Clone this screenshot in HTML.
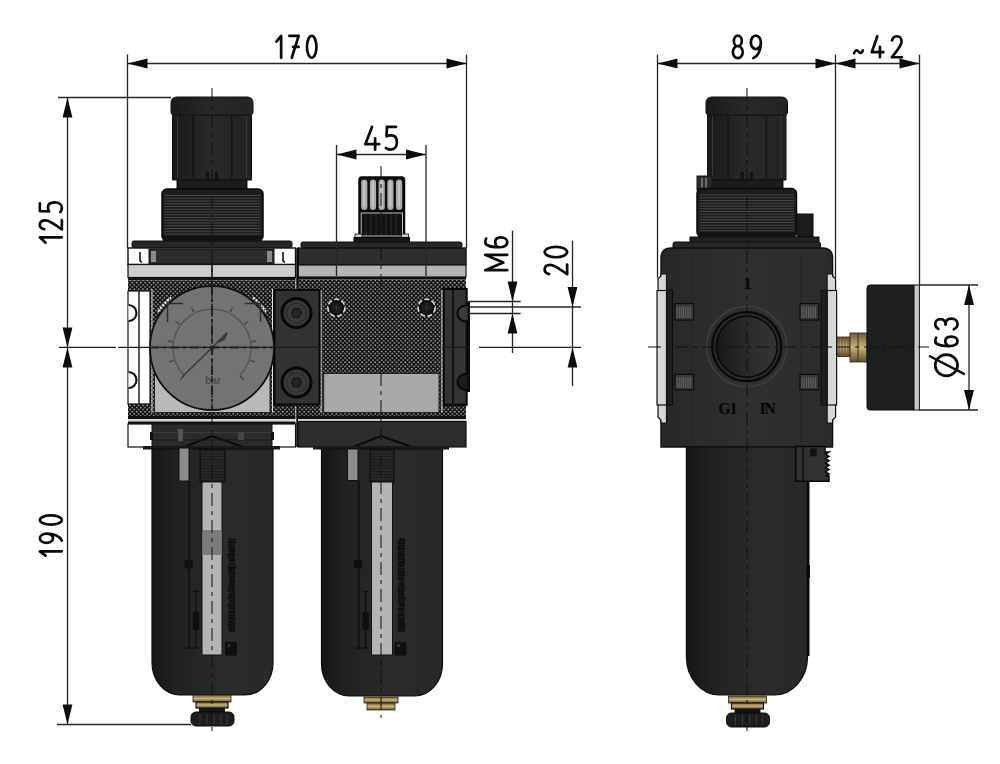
<!DOCTYPE html>
<html><head><meta charset="utf-8"><title>Filter regulator lubricator dimensions</title>
<style>html,body{margin:0;padding:0;background:#fff;width:1000px;height:764px;overflow:hidden}svg{display:block}</style>
</head><body>
<svg width="1000" height="764" viewBox="0 0 1000 764">
<defs>
 <pattern id="hatch" width="4.3" height="4.3" patternUnits="userSpaceOnUse">
  <rect width="4.3" height="4.3" fill="#0e0e0e"/>
  <circle cx="1.07" cy="1.07" r="0.88" fill="#b0b0b0"/>
  <circle cx="3.22" cy="3.22" r="0.88" fill="#b0b0b0"/>
 </pattern>
 <linearGradient id="bowl" x1="0" x2="1" y1="0" y2="0">
  <stop offset="0" stop-color="#151617"/>
  <stop offset="0.2" stop-color="#202122"/>
  <stop offset="0.6" stop-color="#2a2b2d"/>
  <stop offset="1" stop-color="#27282a"/>
 </linearGradient>
 <linearGradient id="knob" x1="0" x2="1" y1="0" y2="0">
  <stop offset="0" stop-color="#18191a"/>
  <stop offset="0.5" stop-color="#27292a"/>
  <stop offset="1" stop-color="#222324"/>
 </linearGradient>
 <linearGradient id="bodyR" x1="0" x2="1" y1="0" y2="0">
  <stop offset="0" stop-color="#26282a"/>
  <stop offset="0.5" stop-color="#2d2f31"/>
  <stop offset="1" stop-color="#2a2c2e"/>
 </linearGradient>
 <linearGradient id="port" x1="0" x2="1" y1="0" y2="0">
  <stop offset="0" stop-color="#161718"/>
  <stop offset="0.6" stop-color="#2c2d2f"/>
  <stop offset="1" stop-color="#333436"/>
 </linearGradient>
 <linearGradient id="brass" x1="0" x2="0" y1="0" y2="1">
  <stop offset="0" stop-color="#6b5a36"/>
  <stop offset="0.5" stop-color="#c9b27a"/>
  <stop offset="1" stop-color="#5e4e2c"/>
 </linearGradient>
</defs><rect width="1000" height="764" fill="#fff"/><path d="M172.5,180 L172.5,115 L171,113 L171,103 Q171,97 177,97 L247,97 Q253,97 253,103 L253,113 L251.5,115 L251.5,180 Z" fill="url(#knob)" stroke="#111" stroke-width="1" />
<rect x="172.50" y="114.50" width="79.00" height="1.50" fill="#161616" />
<rect x="192.34" y="116.00" width="1.60" height="62.00" fill="#151515" />
<rect x="230.88" y="116.00" width="1.60" height="62.00" fill="#151515" />
<rect x="177.06" y="116.00" width="1.00" height="62.00" fill="#3a3a3a" />
<rect x="245.94" y="116.00" width="1.00" height="62.00" fill="#3a3a3a" />
<rect x="206.00" y="172.00" width="3.00" height="8.00" fill="#121212" />
<rect x="215.00" y="172.00" width="3.00" height="8.00" fill="#121212" />
<rect x="177.00" y="180.00" width="70.00" height="10.00" fill="#1b1c1d" stroke="#0e0e0e" stroke-width="1" />
<rect x="162.00" y="189.00" width="101.00" height="52.00" fill="#1c1d1e" stroke="#080808" stroke-width="1.5" rx="5" />
<line x1="164.5" y1="195.5" x2="260.5" y2="195.5" stroke="#4a4b4c" stroke-width="0.9" />
<line x1="164.5" y1="198.25" x2="260.5" y2="198.25" stroke="#4a4b4c" stroke-width="0.9" />
<line x1="164.5" y1="201.0" x2="260.5" y2="201.0" stroke="#4a4b4c" stroke-width="0.9" />
<line x1="164.5" y1="203.75" x2="260.5" y2="203.75" stroke="#4a4b4c" stroke-width="0.9" />
<line x1="164.5" y1="206.5" x2="260.5" y2="206.5" stroke="#4a4b4c" stroke-width="0.9" />
<line x1="164.5" y1="209.25" x2="260.5" y2="209.25" stroke="#4a4b4c" stroke-width="0.9" />
<line x1="164.5" y1="212.0" x2="260.5" y2="212.0" stroke="#4a4b4c" stroke-width="0.9" />
<line x1="164.5" y1="214.75" x2="260.5" y2="214.75" stroke="#4a4b4c" stroke-width="0.9" />
<line x1="164.5" y1="217.5" x2="260.5" y2="217.5" stroke="#4a4b4c" stroke-width="0.9" />
<line x1="164.5" y1="220.25" x2="260.5" y2="220.25" stroke="#4a4b4c" stroke-width="0.9" />
<line x1="164.5" y1="223.0" x2="260.5" y2="223.0" stroke="#4a4b4c" stroke-width="0.9" />
<line x1="164.5" y1="225.75" x2="260.5" y2="225.75" stroke="#4a4b4c" stroke-width="0.9" />
<line x1="164.5" y1="228.5" x2="260.5" y2="228.5" stroke="#4a4b4c" stroke-width="0.9" />
<line x1="164.5" y1="231.25" x2="260.5" y2="231.25" stroke="#4a4b4c" stroke-width="0.9" />
<line x1="164.5" y1="234.0" x2="260.5" y2="234.0" stroke="#4a4b4c" stroke-width="0.9" />
<rect x="163.00" y="236.00" width="99.00" height="5.00" fill="#121212" />
<rect x="132.00" y="241.00" width="160.00" height="7.00" fill="#262728" stroke="#111" stroke-width="1" rx="2" />
<rect x="128.00" y="248.00" width="167.50" height="16.50" fill="#ffffff" stroke="#111" stroke-width="1.4" />
<rect x="149.00" y="249.00" width="125.00" height="15.00" fill="#2b2c2e" stroke="#111" stroke-width="1" />
<rect x="151.00" y="251.00" width="5.00" height="11.00" fill="#8a8a8a" />
<rect x="267.00" y="251.00" width="5.00" height="11.00" fill="#8a8a8a" />
<path d="M140,252 L140,260 Q140,262 142,262" fill="none" stroke="#111" stroke-width="1.6" />
<path d="M283,252 L283,260 Q283,262 285,262" fill="none" stroke="#111" stroke-width="1.6" />
<rect x="128.00" y="264.50" width="167.50" height="13.00" fill="#cdcdcd" stroke="#111" stroke-width="1.2" />
<rect x="128.00" y="277.50" width="167.50" height="3.00" fill="#111" />
<line x1="212" y1="265" x2="212" y2="277.5" stroke="#111" stroke-width="1.5" />
<rect x="128.00" y="280.50" width="167.50" height="135.50" fill="url(#hatch)" />
<rect x="128.00" y="291.00" width="22.00" height="113.00" fill="#ffffff" stroke="#111" stroke-width="1.2" />
<line x1="139" y1="291" x2="139" y2="404" stroke="#111" stroke-width="1.4" />
<path d="M128.5,305 A8,8 0 0 1 128.5,321" fill="#fff" stroke="#111" stroke-width="2.2" />
<path d="M128.5,372 A8,8 0 0 1 128.5,388" fill="#fff" stroke="#111" stroke-width="2.2" />
<rect x="152.00" y="289.00" width="120.50" height="123.50" fill="url(#hatch)" />
<line x1="152" y1="289" x2="152" y2="412.5" stroke="#e0e0e0" stroke-width="1" />
<line x1="272.5" y1="289" x2="272.5" y2="412.5" stroke="#e0e0e0" stroke-width="1" />
<rect x="154.50" y="372.00" width="115.50" height="40.50" fill="#b9b9b9" stroke="#222" stroke-width="1" />
<path d="M158.1,311.7 A65,65 0 0 1 171.1,297.5 M252.9,297.5 A65,65 0 0 1 265.9,311.7" fill="none" stroke="#e8e8e8" stroke-width="2" stroke-dasharray="2.5,1"/>
<circle cx="212" cy="348" r="62" fill="#737373" stroke="#121212" stroke-width="1.8" />
<path d="M184.4,375.6 A39,39 0 1 1 239.6,375.6" fill="none" stroke="#505050" stroke-width="1.2" />
<line x1="183.7157287525381" y1="376.2842712474619" x2="180.18019484660536" y2="379.8198051533946" stroke="#454545" stroke-width="1.3" />
<line x1="173.95773934819385" y1="360.3606797749979" x2="169.2024567667181" y2="361.90576474687265" stroke="#454545" stroke-width="1.3" />
<line x1="172.4924663761945" y1="341.7426213983908" x2="167.5540246732188" y2="340.9604490731896" stroke="#454545" stroke-width="1.3" />
<line x1="179.6393202250021" y1="324.4885899083011" x2="175.59423525312738" y2="321.5496636468387" stroke="#454545" stroke-width="1.3" />
<line x1="193.84038001041813" y1="312.3597390324653" x2="191.5704275117204" y2="307.9047064115234" stroke="#454545" stroke-width="1.3" />
<line x1="212.0" y1="308.0" x2="212.0" y2="303.0" stroke="#454545" stroke-width="1.3" />
<line x1="230.15961998958187" y1="312.3597390324653" x2="232.4295724882796" y2="307.9047064115234" stroke="#454545" stroke-width="1.3" />
<line x1="244.3606797749979" y1="324.4885899083011" x2="248.40576474687265" y2="321.5496636468387" stroke="#454545" stroke-width="1.3" />
<line x1="251.5075336238055" y1="341.7426213983908" x2="256.4459753267812" y2="340.96044907318964" stroke="#454545" stroke-width="1.3" />
<line x1="250.04226065180615" y1="360.3606797749979" x2="254.7975432332819" y2="361.90576474687265" stroke="#454545" stroke-width="1.3" />
<line x1="240.2842712474619" y1="376.2842712474619" x2="243.81980515339464" y2="379.8198051533946" stroke="#454545" stroke-width="1.3" />
<line x1="182" y1="377" x2="224" y2="336" stroke="#3a3a3a" stroke-width="1.6" />
<path d="M218,342 L227,333 L224,339 Z" fill="#3a3a3a" stroke="#3a3a3a" stroke-width="2" />
<circle cx="212" cy="348" r="2.5" fill="#333" />
<text x="213" y="384" font-family="Liberation Sans, sans-serif" font-size="10" font-weight="bold" fill="#4e4e4e" text-anchor="middle">bar</text>
<path d="M167.5,322 L167.5,303.5 L183,303.5 M260.5,322 L260.5,303.5 L245,303.5" fill="none" stroke="#2e2e2e" stroke-width="1.4" />
<rect x="274.50" y="290.00" width="45.00" height="114.50" fill="#313233" stroke="#080808" stroke-width="2" />
<circle cx="296.5" cy="313" r="14.5" fill="#38393a" stroke="#080808" stroke-width="3" />
<circle cx="296.5" cy="313" r="10" fill="none" stroke="#2a2a2a" stroke-width="1.2" />
<polygon points="291.5,313 294.0,308.7 299.0,308.7 301.5,313 299.0,317.3 294.0,317.3" fill="#262627" stroke="#141414" stroke-width="1.2"/>
<circle cx="296.5" cy="382.5" r="14.5" fill="#38393a" stroke="#080808" stroke-width="3" />
<circle cx="296.5" cy="382.5" r="10" fill="none" stroke="#2a2a2a" stroke-width="1.2" />
<polygon points="291.5,382.5 294.0,378.2 299.0,378.2 301.5,382.5 299.0,386.8 294.0,386.8" fill="#262627" stroke="#141414" stroke-width="1.2"/>
<rect x="128.00" y="416.00" width="167.50" height="3.00" fill="#111" />
<rect x="128.00" y="419.00" width="167.50" height="2.50" fill="#d8d8d8" />
<rect x="128.00" y="421.50" width="167.50" height="2.50" fill="#111" />
<rect x="128.00" y="424.00" width="167.50" height="23.00" fill="#ffffff" stroke="#111" stroke-width="1.2" />
<rect x="152.00" y="424.00" width="120.00" height="23.00" fill="#2a2b2d" stroke="#111" stroke-width="1" />
<path d="M184,447 L212,436 L243,447" fill="none" stroke="#0a0a0a" stroke-width="2" />
<rect x="150.00" y="432.00" width="3.00" height="8.00" fill="#111" />
<rect x="271.00" y="432.00" width="3.00" height="8.00" fill="#111" />
<line x1="153" y1="432.5" x2="271" y2="432.5" stroke="#3a3b3c" stroke-width="1" />
<line x1="153" y1="440" x2="271" y2="440" stroke="#1a1a1a" stroke-width="1" />
<rect x="178.00" y="429.00" width="5.00" height="12.00" fill="#555" />
<rect x="238.00" y="432.00" width="6.00" height="8.00" fill="#444" />
<rect x="143.00" y="446.00" width="137.00" height="3.50" fill="#1a1a1a" />
<path d="M152,449 L273,449 L273,663 C273,680.6 260.4,695 245,695 L180,695 C164.6,695 152,680.6 152,663 Z" fill="url(#bowl)" stroke="#0d0d0d" stroke-width="1.2" />
<rect x="179.00" y="448.00" width="10.00" height="33.00" fill="#8c8c8c" stroke="#111" stroke-width="1" />
<rect x="200.00" y="449.00" width="25.00" height="33.00" fill="#1b1b1b" stroke="#0d0d0d" stroke-width="1" />
<line x1="201" y1="452" x2="224" y2="452" stroke="#3a3a3a" stroke-width="0.8" />
<line x1="201" y1="455" x2="224" y2="455" stroke="#3a3a3a" stroke-width="0.8" />
<line x1="201" y1="458" x2="224" y2="458" stroke="#3a3a3a" stroke-width="0.8" />
<line x1="201" y1="461" x2="224" y2="461" stroke="#3a3a3a" stroke-width="0.8" />
<line x1="201" y1="464" x2="224" y2="464" stroke="#3a3a3a" stroke-width="0.8" />
<line x1="201" y1="467" x2="224" y2="467" stroke="#3a3a3a" stroke-width="0.8" />
<line x1="201" y1="470" x2="224" y2="470" stroke="#3a3a3a" stroke-width="0.8" />
<line x1="201" y1="473" x2="224" y2="473" stroke="#3a3a3a" stroke-width="0.8" />
<line x1="201" y1="476" x2="224" y2="476" stroke="#3a3a3a" stroke-width="0.8" />
<line x1="201" y1="479" x2="224" y2="479" stroke="#3a3a3a" stroke-width="0.8" />
<rect x="202.00" y="482.00" width="20.00" height="173.00" fill="#b3b5b5" stroke="#111" stroke-width="1" />
<rect x="202.50" y="530.00" width="19.00" height="25.00" fill="#7b7d7d" />
<line x1="189.2" y1="481" x2="189.2" y2="648" stroke="#0d0d0d" stroke-width="1.5" />
<line x1="185.5" y1="648" x2="198.5" y2="648" stroke="#0d0d0d" stroke-width="1.2" />
<rect x="184.50" y="560.00" width="8.40" height="8.60" fill="#0e0e0e" rx="2" />
<line x1="196.10000000000002" y1="591.5" x2="196.10000000000002" y2="648" stroke="#0d0d0d" stroke-width="1.2" />
<line x1="192.89999999999998" y1="591.5" x2="199.3" y2="591.5" stroke="#0d0d0d" stroke-width="1.2" />
<rect x="192.90" y="611.60" width="6.40" height="18.40" fill="#0e0e0e" />
<rect x="228.52" y="538.30" width="6.93" height="1.98" fill="#0f0f0f" />
<rect x="227.80" y="540.76" width="8.18" height="2.75" fill="#0f0f0f" />
<rect x="228.05" y="544.18" width="6.46" height="2.02" fill="#0f0f0f" />
<rect x="228.41" y="546.58" width="6.63" height="3.17" fill="#0f0f0f" />
<rect x="229.00" y="549.87" width="6.21" height="2.77" fill="#0f0f0f" />
<rect x="227.80" y="553.23" width="7.07" height="2.84" fill="#0f0f0f" />
<rect x="227.75" y="556.55" width="6.96" height="2.10" fill="#0f0f0f" />
<rect x="229.02" y="559.03" width="5.91" height="2.94" fill="#0f0f0f" />
<rect x="228.90" y="562.70" width="6.43" height="2.29" fill="#0f0f0f" />
<rect x="227.85" y="565.74" width="7.95" height="3.26" fill="#0f0f0f" />
<rect x="228.35" y="569.17" width="6.71" height="3.43" fill="#0f0f0f" />
<rect x="228.28" y="572.84" width="7.19" height="2.51" fill="#0f0f0f" />
<rect x="229.06" y="575.83" width="5.92" height="2.67" fill="#0f0f0f" />
<rect x="229.19" y="579.24" width="5.81" height="3.21" fill="#0f0f0f" />
<rect x="229.15" y="582.58" width="5.50" height="3.22" fill="#0f0f0f" />
<rect x="228.02" y="586.26" width="6.74" height="2.93" fill="#0f0f0f" />
<rect x="227.80" y="589.64" width="6.92" height="2.07" fill="#0f0f0f" />
<rect x="228.90" y="592.51" width="6.48" height="1.68" fill="#0f0f0f" />
<rect x="228.85" y="594.30" width="5.84" height="2.09" fill="#0f0f0f" />
<rect x="227.77" y="596.43" width="7.15" height="2.73" fill="#0f0f0f" />
<rect x="229.17" y="599.42" width="6.07" height="3.26" fill="#0f0f0f" />
<rect x="227.82" y="603.48" width="7.28" height="2.12" fill="#0f0f0f" />
<rect x="228.31" y="605.63" width="6.77" height="1.89" fill="#0f0f0f" />
<rect x="229.00" y="607.65" width="6.53" height="1.58" fill="#0f0f0f" />
<rect x="228.27" y="610.00" width="7.04" height="3.29" fill="#0f0f0f" />
<rect x="228.59" y="613.71" width="6.57" height="2.79" fill="#0f0f0f" />
<rect x="228.46" y="616.99" width="6.89" height="3.38" fill="#0f0f0f" />
<rect x="228.15" y="620.95" width="6.38" height="1.98" fill="#0f0f0f" />
<rect x="227.72" y="623.34" width="7.66" height="2.60" fill="#0f0f0f" />
<rect x="228.62" y="626.40" width="6.43" height="1.54" fill="#0f0f0f" />
<rect x="228.40" y="627.99" width="6.58" height="2.75" fill="#0f0f0f" />
<rect x="228.81" y="631.03" width="7.16" height="0.77" fill="#0f0f0f" />
<rect x="225.00" y="641.90" width="11.90" height="13.70" fill="#0f0f0f" />
<rect x="227.50" y="644.00" width="3.00" height="3.00" fill="#333" />
<rect x="193.00" y="695.00" width="38.00" height="7.00" fill="url(#brass)" stroke="#2a2418" stroke-width="0.8" />
<rect x="196.00" y="702.00" width="32.00" height="6.00" fill="url(#brass)" stroke="#1a1a1a" stroke-width="1.2" />
<rect x="199.00" y="708.00" width="26.00" height="4.00" fill="#151515" />
<rect x="191.00" y="712.00" width="43.00" height="14.00" fill="#1c1d1e" stroke="#0a0a0a" stroke-width="1" rx="5" />
<line x1="200" y1="714" x2="200" y2="724" stroke="#3a3a3a" stroke-width="1" />
<line x1="207" y1="714" x2="207" y2="724" stroke="#3a3a3a" stroke-width="1" />
<line x1="214" y1="714" x2="214" y2="724" stroke="#3a3a3a" stroke-width="1" />
<line x1="221" y1="714" x2="221" y2="724" stroke="#3a3a3a" stroke-width="1" />
<line x1="227" y1="714" x2="227" y2="724" stroke="#3a3a3a" stroke-width="1" />
<rect x="359.00" y="177.00" width="45.50" height="35.00" fill="#0c0c0c" stroke="#080808" stroke-width="1.5" rx="3" />
<rect x="361.20" y="179.50" width="6.20" height="30.50" fill="#a9a9a9" rx="3" />
<rect x="363.00" y="181.00" width="2.40" height="26.00" fill="#c2c2c2" rx="1.2" />
<rect x="369.90" y="179.50" width="6.20" height="30.50" fill="#a9a9a9" rx="3" />
<rect x="371.70" y="181.00" width="2.40" height="26.00" fill="#c2c2c2" rx="1.2" />
<rect x="378.60" y="179.50" width="6.20" height="30.50" fill="#a9a9a9" rx="3" />
<rect x="380.40" y="181.00" width="2.40" height="26.00" fill="#c2c2c2" rx="1.2" />
<rect x="387.30" y="179.50" width="6.20" height="30.50" fill="#a9a9a9" rx="3" />
<rect x="389.10" y="181.00" width="2.40" height="26.00" fill="#c2c2c2" rx="1.2" />
<rect x="396.00" y="179.50" width="6.20" height="30.50" fill="#a9a9a9" rx="3" />
<rect x="397.80" y="181.00" width="2.40" height="26.00" fill="#c2c2c2" rx="1.2" />
<rect x="359.00" y="211.00" width="45.50" height="26.00" fill="#0a0a0a" stroke="#080808" stroke-width="1.5" />
<rect x="361.20" y="213.00" width="41.30" height="23.00" fill="#121212" stroke="#bdbdbd" stroke-width="1" />
<line x1="366" y1="214" x2="366" y2="235" stroke="#2a2a2a" stroke-width="1" />
<line x1="371" y1="214" x2="371" y2="235" stroke="#2a2a2a" stroke-width="1" />
<line x1="376" y1="214" x2="376" y2="235" stroke="#2a2a2a" stroke-width="1" />
<line x1="381" y1="214" x2="381" y2="235" stroke="#2a2a2a" stroke-width="1" />
<line x1="386" y1="214" x2="386" y2="235" stroke="#2a2a2a" stroke-width="1" />
<line x1="391" y1="214" x2="391" y2="235" stroke="#2a2a2a" stroke-width="1" />
<line x1="396" y1="214" x2="396" y2="235" stroke="#2a2a2a" stroke-width="1" />
<rect x="355.00" y="234.00" width="7.00" height="3.50" fill="#d0d0d0" stroke="#080808" stroke-width="0.8" />
<rect x="401.50" y="234.00" width="7.00" height="3.50" fill="#d0d0d0" stroke="#080808" stroke-width="0.8" />
<rect x="354.00" y="237.50" width="55.50" height="4.50" fill="#171717" stroke="#080808" stroke-width="1" />
<rect x="301.00" y="242.00" width="161.00" height="6.00" fill="#262728" stroke="#111" stroke-width="1" rx="2" />
<rect x="298.00" y="248.00" width="168.00" height="17.00" fill="#2d2e30" stroke="#111" stroke-width="1.4" />
<rect x="298.00" y="265.00" width="168.00" height="12.00" fill="#b4b4b4" stroke="#111" stroke-width="1.2" />
<line x1="297.5" y1="248" x2="297.5" y2="447" stroke="#0a0a0a" stroke-width="2.5" />
<rect x="298.00" y="277.00" width="168.00" height="2.50" fill="#111" />
<rect x="298.00" y="279.50" width="168.00" height="136.50" fill="url(#hatch)" />
<rect x="321.00" y="290.00" width="121.00" height="122.50" fill="url(#hatch)" />
<line x1="321" y1="290" x2="321" y2="412.5" stroke="#e0e0e0" stroke-width="1" />
<line x1="442" y1="290" x2="442" y2="412.5" stroke="#e0e0e0" stroke-width="1" />
<rect x="323.70" y="373.50" width="115.30" height="39.00" fill="#a9a9a9" stroke="#222" stroke-width="1" />
<circle cx="336.4" cy="307.7" r="8.5" fill="#151515" stroke="#d8d8d8" stroke-width="1.6" stroke-dasharray="5,2.5"/>
<circle cx="336.4" cy="307.7" r="6.5" fill="#1a1a1a" stroke="#0a0a0a" stroke-width="1.2" />
<line x1="333.4" y1="307.7" x2="339.4" y2="307.7" stroke="#3a3a3a" stroke-width="0.8" />
<line x1="336.4" y1="304.7" x2="336.4" y2="310.7" stroke="#3a3a3a" stroke-width="0.8" />
<circle cx="426.6" cy="307.7" r="8.5" fill="#151515" stroke="#d8d8d8" stroke-width="1.6" stroke-dasharray="5,2.5"/>
<circle cx="426.6" cy="307.7" r="6.5" fill="#1a1a1a" stroke="#0a0a0a" stroke-width="1.2" />
<line x1="423.6" y1="307.7" x2="429.6" y2="307.7" stroke="#3a3a3a" stroke-width="0.8" />
<line x1="426.6" y1="304.7" x2="426.6" y2="310.7" stroke="#3a3a3a" stroke-width="0.8" />
<rect x="466.70" y="302.00" width="3.30" height="90.00" fill="#0a0a0a" />
<rect x="443.80" y="289.00" width="22.90" height="115.80" fill="#333435" stroke="#080808" stroke-width="2" />
<line x1="453" y1="289" x2="453" y2="404.8" stroke="#0c0c0c" stroke-width="1.6" />
<circle cx="465.5" cy="313.5" r="8" fill="#3a3b3c" stroke="#080808" stroke-width="2" />
<circle cx="465.5" cy="382" r="8" fill="#1c1c1c" stroke="#080808" stroke-width="2" />
<rect x="470.00" y="300.00" width="6.00" height="96.00" fill="#ffffff" />
<rect x="467.50" y="302.00" width="2.50" height="90.00" fill="#0a0a0a" />
<rect x="298.00" y="416.00" width="168.00" height="3.00" fill="#111" />
<rect x="298.00" y="419.00" width="168.00" height="2.50" fill="#d5d5d5" />
<rect x="298.00" y="421.50" width="168.00" height="25.50" fill="#2c2d2f" stroke="#111" stroke-width="1.2" />
<path d="M353,447 L381,436 L412,447" fill="none" stroke="#0a0a0a" stroke-width="2" />
<rect x="313.00" y="446.00" width="136.00" height="3.50" fill="#1a1a1a" />
<path d="M321.5,449 L442.5,449 L442.5,664 C442.5,681.6 429.9,696 414.5,696 L349.5,696 C334.1,696 321.5,681.6 321.5,664 Z" fill="url(#bowl)" stroke="#0d0d0d" stroke-width="1.2" />
<rect x="347.50" y="449.00" width="10.50" height="31.50" fill="#8c8c8c" stroke="#111" stroke-width="1" />
<rect x="370.00" y="449.00" width="24.00" height="33.00" fill="#1b1b1b" stroke="#0d0d0d" stroke-width="1" />
<line x1="371" y1="452" x2="393" y2="452" stroke="#3a3a3a" stroke-width="0.8" />
<line x1="371" y1="455" x2="393" y2="455" stroke="#3a3a3a" stroke-width="0.8" />
<line x1="371" y1="458" x2="393" y2="458" stroke="#3a3a3a" stroke-width="0.8" />
<line x1="371" y1="461" x2="393" y2="461" stroke="#3a3a3a" stroke-width="0.8" />
<line x1="371" y1="464" x2="393" y2="464" stroke="#3a3a3a" stroke-width="0.8" />
<line x1="371" y1="467" x2="393" y2="467" stroke="#3a3a3a" stroke-width="0.8" />
<line x1="371" y1="470" x2="393" y2="470" stroke="#3a3a3a" stroke-width="0.8" />
<line x1="371" y1="473" x2="393" y2="473" stroke="#3a3a3a" stroke-width="0.8" />
<line x1="371" y1="476" x2="393" y2="476" stroke="#3a3a3a" stroke-width="0.8" />
<line x1="371" y1="479" x2="393" y2="479" stroke="#3a3a3a" stroke-width="0.8" />
<rect x="371.50" y="482.00" width="21.00" height="173.00" fill="#b3b5b5" stroke="#111" stroke-width="1" />
<line x1="358.7" y1="481" x2="358.7" y2="648" stroke="#0d0d0d" stroke-width="1.5" />
<line x1="355" y1="648" x2="368" y2="648" stroke="#0d0d0d" stroke-width="1.2" />
<rect x="354.00" y="560.00" width="8.40" height="8.60" fill="#0e0e0e" rx="2" />
<line x1="365.6" y1="591.5" x2="365.6" y2="648" stroke="#0d0d0d" stroke-width="1.2" />
<line x1="362.4" y1="591.5" x2="368.8" y2="591.5" stroke="#0d0d0d" stroke-width="1.2" />
<rect x="362.40" y="611.60" width="6.40" height="18.40" fill="#0e0e0e" />
<rect x="398.64" y="538.30" width="6.48" height="2.85" fill="#0f0f0f" />
<rect x="397.68" y="541.52" width="7.27" height="2.69" fill="#0f0f0f" />
<rect x="398.09" y="544.45" width="6.96" height="2.24" fill="#0f0f0f" />
<rect x="397.24" y="546.99" width="7.41" height="3.04" fill="#0f0f0f" />
<rect x="397.53" y="550.63" width="6.76" height="2.12" fill="#0f0f0f" />
<rect x="397.85" y="552.94" width="6.60" height="1.87" fill="#0f0f0f" />
<rect x="397.70" y="554.89" width="6.55" height="2.14" fill="#0f0f0f" />
<rect x="397.45" y="557.39" width="7.54" height="3.21" fill="#0f0f0f" />
<rect x="397.88" y="561.12" width="7.29" height="3.27" fill="#0f0f0f" />
<rect x="397.49" y="564.49" width="6.80" height="2.56" fill="#0f0f0f" />
<rect x="397.62" y="567.72" width="6.67" height="1.87" fill="#0f0f0f" />
<rect x="397.72" y="570.10" width="7.59" height="3.11" fill="#0f0f0f" />
<rect x="397.61" y="573.44" width="7.37" height="3.09" fill="#0f0f0f" />
<rect x="397.81" y="576.86" width="6.30" height="2.34" fill="#0f0f0f" />
<rect x="398.61" y="579.33" width="5.57" height="1.51" fill="#0f0f0f" />
<rect x="398.63" y="581.63" width="5.48" height="2.37" fill="#0f0f0f" />
<rect x="398.46" y="584.17" width="6.05" height="2.99" fill="#0f0f0f" />
<rect x="397.71" y="587.58" width="7.45" height="2.08" fill="#0f0f0f" />
<rect x="397.63" y="589.71" width="6.65" height="2.68" fill="#0f0f0f" />
<rect x="398.24" y="592.42" width="5.87" height="3.31" fill="#0f0f0f" />
<rect x="398.07" y="596.45" width="7.41" height="3.30" fill="#0f0f0f" />
<rect x="397.65" y="600.34" width="6.86" height="1.84" fill="#0f0f0f" />
<rect x="398.61" y="602.61" width="5.97" height="2.33" fill="#0f0f0f" />
<rect x="398.49" y="605.21" width="6.29" height="2.00" fill="#0f0f0f" />
<rect x="397.50" y="607.84" width="7.20" height="2.20" fill="#0f0f0f" />
<rect x="398.39" y="610.70" width="5.73" height="1.84" fill="#0f0f0f" />
<rect x="397.21" y="613.18" width="7.35" height="3.15" fill="#0f0f0f" />
<rect x="397.61" y="617.02" width="7.49" height="1.60" fill="#0f0f0f" />
<rect x="397.91" y="619.04" width="6.43" height="2.35" fill="#0f0f0f" />
<rect x="397.39" y="621.39" width="7.92" height="1.61" fill="#0f0f0f" />
<rect x="398.48" y="623.06" width="6.89" height="3.45" fill="#0f0f0f" />
<rect x="397.67" y="626.91" width="7.30" height="2.13" fill="#0f0f0f" />
<rect x="397.74" y="629.56" width="7.47" height="2.24" fill="#0f0f0f" />
<rect x="394.50" y="641.90" width="11.90" height="13.70" fill="#0f0f0f" />
<rect x="397.00" y="644.00" width="3.00" height="3.00" fill="#333" />
<rect x="364.00" y="697.00" width="34.00" height="6.00" fill="url(#brass)" stroke="#2a2418" stroke-width="0.8" />
<rect x="367.00" y="703.00" width="28.00" height="7.00" fill="url(#brass)" stroke="#2a2418" stroke-width="0.8" />
<rect x="274.50" y="290.00" width="45.00" height="114.50" fill="#313233" stroke="#080808" stroke-width="2" />
<circle cx="296.5" cy="313" r="14.5" fill="#38393a" stroke="#080808" stroke-width="3" />
<circle cx="296.5" cy="313" r="10" fill="none" stroke="#2a2a2a" stroke-width="1.2" />
<polygon points="291.5,313 294.0,308.7 299.0,308.7 301.5,313 299.0,317.3 294.0,317.3" fill="#262627" stroke="#141414" stroke-width="1.2"/>
<circle cx="296.5" cy="382.5" r="14.5" fill="#38393a" stroke="#080808" stroke-width="3" />
<circle cx="296.5" cy="382.5" r="10" fill="none" stroke="#2a2a2a" stroke-width="1.2" />
<polygon points="291.5,382.5 294.0,378.2 299.0,378.2 301.5,382.5 299.0,386.8 294.0,386.8" fill="#262627" stroke="#141414" stroke-width="1.2"/>
<path d="M707.5,180 L707.5,115 L706,113 L706,103 Q706,97 712,97 L781.5,97 Q787.5,97 787.5,103 L787.5,113 L786.0,115 L786.0,180 Z" fill="url(#knob)" stroke="#111" stroke-width="1" />
<rect x="707.50" y="114.50" width="78.50" height="1.50" fill="#161616" />
<rect x="727.21" y="116.00" width="1.60" height="62.00" fill="#151515" />
<rect x="765.51" y="116.00" width="1.60" height="62.00" fill="#151515" />
<rect x="712.02" y="116.00" width="1.00" height="62.00" fill="#3a3a3a" />
<rect x="780.48" y="116.00" width="1.00" height="62.00" fill="#3a3a3a" />
<rect x="740.75" y="172.00" width="3.00" height="8.00" fill="#121212" />
<rect x="749.75" y="172.00" width="3.00" height="8.00" fill="#121212" />
<rect x="711.00" y="180.00" width="72.00" height="10.00" fill="#1b1c1d" stroke="#0e0e0e" stroke-width="1" />
<rect x="697.00" y="176.00" width="15.00" height="14.00" fill="#2a2a2a" stroke="#111" stroke-width="1" />
<line x1="702" y1="178" x2="702" y2="189" stroke="#999" stroke-width="1.2" />
<line x1="706" y1="178" x2="706" y2="189" stroke="#999" stroke-width="1.2" />
<rect x="697.00" y="188.50" width="99.50" height="48.50" fill="#1c1d1e" stroke="#080808" stroke-width="1.5" rx="5" />
<line x1="699.5" y1="195.0" x2="794.0" y2="195.0" stroke="#4a4b4c" stroke-width="0.9" />
<line x1="699.5" y1="197.75" x2="794.0" y2="197.75" stroke="#4a4b4c" stroke-width="0.9" />
<line x1="699.5" y1="200.5" x2="794.0" y2="200.5" stroke="#4a4b4c" stroke-width="0.9" />
<line x1="699.5" y1="203.25" x2="794.0" y2="203.25" stroke="#4a4b4c" stroke-width="0.9" />
<line x1="699.5" y1="206.0" x2="794.0" y2="206.0" stroke="#4a4b4c" stroke-width="0.9" />
<line x1="699.5" y1="208.75" x2="794.0" y2="208.75" stroke="#4a4b4c" stroke-width="0.9" />
<line x1="699.5" y1="211.5" x2="794.0" y2="211.5" stroke="#4a4b4c" stroke-width="0.9" />
<line x1="699.5" y1="214.25" x2="794.0" y2="214.25" stroke="#4a4b4c" stroke-width="0.9" />
<line x1="699.5" y1="217.0" x2="794.0" y2="217.0" stroke="#4a4b4c" stroke-width="0.9" />
<line x1="699.5" y1="219.75" x2="794.0" y2="219.75" stroke="#4a4b4c" stroke-width="0.9" />
<line x1="699.5" y1="222.5" x2="794.0" y2="222.5" stroke="#4a4b4c" stroke-width="0.9" />
<line x1="699.5" y1="225.25" x2="794.0" y2="225.25" stroke="#4a4b4c" stroke-width="0.9" />
<line x1="699.5" y1="228.0" x2="794.0" y2="228.0" stroke="#4a4b4c" stroke-width="0.9" />
<line x1="699.5" y1="230.75" x2="794.0" y2="230.75" stroke="#4a4b4c" stroke-width="0.9" />
<rect x="698.00" y="232.00" width="97.50" height="5.00" fill="#121212" />
<rect x="797.00" y="214.00" width="16.00" height="23.00" fill="#1c1c1c" stroke="#0d0d0d" stroke-width="1" />
<rect x="690.00" y="237.00" width="129.00" height="5.00" fill="#222" stroke="#111" stroke-width="1" />
<rect x="673.00" y="242.00" width="147.50" height="8.00" fill="#262728" stroke="#111" stroke-width="1" rx="2" />
<path d="M661,447 L661,258 Q661,248 671,248 L822.6,248 Q832.6,248 832.6,258 L832.6,447 Z" fill="url(#bodyR)" stroke="#111" stroke-width="1.4" />
<line x1="691" y1="252" x2="691" y2="445" stroke="#242527" stroke-width="1" />
<line x1="801" y1="252" x2="801" y2="445" stroke="#242527" stroke-width="1" />
<polygon points="661.0,274 661.0,276 658.0,279 658.0,290.5 657.0,290.5 657.0,405 658.0,405 658.0,417 661.0,420 661.0,423 666.5,423 666.5,274" fill="#d6d6d6" stroke="#111" stroke-width="1.2"/>
<line x1="657.5" y1="290.5" x2="666.5" y2="290.5" stroke="#111" stroke-width="1.2" />
<line x1="657.5" y1="405" x2="666.5" y2="405" stroke="#111" stroke-width="1.2" />
<rect x="666.50" y="290.00" width="6.00" height="115.00" fill="#1e1f20" stroke="#0c0c0c" stroke-width="1" />
<rect x="675.00" y="303.60" width="18.60" height="16.40" fill="#3a3a3a" stroke="#0c0c0c" stroke-width="1.2" />
<line x1="677" y1="306.6" x2="677" y2="318" stroke="#6a6a6a" stroke-width="0.9" />
<line x1="679.2" y1="306.6" x2="679.2" y2="318" stroke="#6a6a6a" stroke-width="0.9" />
<line x1="681.4000000000001" y1="306.6" x2="681.4000000000001" y2="318" stroke="#6a6a6a" stroke-width="0.9" />
<line x1="683.6000000000001" y1="306.6" x2="683.6000000000001" y2="318" stroke="#6a6a6a" stroke-width="0.9" />
<line x1="685.8000000000002" y1="306.6" x2="685.8000000000002" y2="318" stroke="#6a6a6a" stroke-width="0.9" />
<line x1="688.0000000000002" y1="306.6" x2="688.0000000000002" y2="318" stroke="#6a6a6a" stroke-width="0.9" />
<line x1="690.2000000000003" y1="306.6" x2="690.2000000000003" y2="318" stroke="#6a6a6a" stroke-width="0.9" />
<rect x="675.00" y="374.40" width="18.60" height="15.30" fill="#3a3a3a" stroke="#0c0c0c" stroke-width="1.2" />
<line x1="677" y1="377.4" x2="677" y2="387.7" stroke="#6a6a6a" stroke-width="0.9" />
<line x1="679.2" y1="377.4" x2="679.2" y2="387.7" stroke="#6a6a6a" stroke-width="0.9" />
<line x1="681.4000000000001" y1="377.4" x2="681.4000000000001" y2="387.7" stroke="#6a6a6a" stroke-width="0.9" />
<line x1="683.6000000000001" y1="377.4" x2="683.6000000000001" y2="387.7" stroke="#6a6a6a" stroke-width="0.9" />
<line x1="685.8000000000002" y1="377.4" x2="685.8000000000002" y2="387.7" stroke="#6a6a6a" stroke-width="0.9" />
<line x1="688.0000000000002" y1="377.4" x2="688.0000000000002" y2="387.7" stroke="#6a6a6a" stroke-width="0.9" />
<line x1="690.2000000000003" y1="377.4" x2="690.2000000000003" y2="387.7" stroke="#6a6a6a" stroke-width="0.9" />
<polygon points="832.6,274 832.6,276 835.6,279 835.6,290.5 836.6,290.5 836.6,405 835.6,405 835.6,417 832.6,420 832.6,423 827.1,423 827.1,274" fill="#d6d6d6" stroke="#111" stroke-width="1.2"/>
<line x1="836.0999999999999" y1="290.5" x2="827.0999999999999" y2="290.5" stroke="#111" stroke-width="1.2" />
<line x1="836.0999999999999" y1="405" x2="827.0999999999999" y2="405" stroke="#111" stroke-width="1.2" />
<rect x="821.10" y="290.00" width="6.00" height="115.00" fill="#1e1f20" stroke="#0c0c0c" stroke-width="1" />
<rect x="800.00" y="303.60" width="18.60" height="16.40" fill="#3a3a3a" stroke="#0c0c0c" stroke-width="1.2" />
<line x1="801.9999999999999" y1="306.6" x2="801.9999999999999" y2="318" stroke="#6a6a6a" stroke-width="0.9" />
<line x1="804.1999999999999" y1="306.6" x2="804.1999999999999" y2="318" stroke="#6a6a6a" stroke-width="0.9" />
<line x1="806.4" y1="306.6" x2="806.4" y2="318" stroke="#6a6a6a" stroke-width="0.9" />
<line x1="808.6" y1="306.6" x2="808.6" y2="318" stroke="#6a6a6a" stroke-width="0.9" />
<line x1="810.8000000000001" y1="306.6" x2="810.8000000000001" y2="318" stroke="#6a6a6a" stroke-width="0.9" />
<line x1="813.0000000000001" y1="306.6" x2="813.0000000000001" y2="318" stroke="#6a6a6a" stroke-width="0.9" />
<line x1="815.2000000000002" y1="306.6" x2="815.2000000000002" y2="318" stroke="#6a6a6a" stroke-width="0.9" />
<rect x="800.00" y="374.40" width="18.60" height="15.30" fill="#3a3a3a" stroke="#0c0c0c" stroke-width="1.2" />
<line x1="801.9999999999999" y1="377.4" x2="801.9999999999999" y2="387.7" stroke="#6a6a6a" stroke-width="0.9" />
<line x1="804.1999999999999" y1="377.4" x2="804.1999999999999" y2="387.7" stroke="#6a6a6a" stroke-width="0.9" />
<line x1="806.4" y1="377.4" x2="806.4" y2="387.7" stroke="#6a6a6a" stroke-width="0.9" />
<line x1="808.6" y1="377.4" x2="808.6" y2="387.7" stroke="#6a6a6a" stroke-width="0.9" />
<line x1="810.8000000000001" y1="377.4" x2="810.8000000000001" y2="387.7" stroke="#6a6a6a" stroke-width="0.9" />
<line x1="813.0000000000001" y1="377.4" x2="813.0000000000001" y2="387.7" stroke="#6a6a6a" stroke-width="0.9" />
<line x1="815.2000000000002" y1="377.4" x2="815.2000000000002" y2="387.7" stroke="#6a6a6a" stroke-width="0.9" />
<circle cx="746.7" cy="346.6" r="40" fill="none" stroke="#3a3c3e" stroke-width="2" />
<circle cx="746.7" cy="346.6" r="34.5" fill="#2a2b2d" stroke="#0a0a0a" stroke-width="2.4" />
<circle cx="746.7" cy="346.6" r="30.5" fill="url(#port)" stroke="#0a0a0a" stroke-width="1.6" />
<text x="747.5" y="288.5" font-family="Liberation Serif, serif" font-weight="bold" font-size="17" fill="#050505" text-anchor="middle">1</text>
<text x="727.3" y="414.3" font-family="Liberation Serif, serif" font-weight="bold" font-size="16" fill="#050505" text-anchor="middle" letter-spacing="-1.2">G1</text>
<text x="767" y="414.3" font-family="Liberation Serif, serif" font-weight="bold" font-size="16" fill="#050505" text-anchor="middle" letter-spacing="-1.5">IN</text>
<path d="M686.4,447 L807.5,447 L807.5,657 C807.5,677.9 792.65,695 774.5,695 L719.4,695 C701.25,695 686.4,677.9 686.4,657 Z" fill="url(#bowl)" stroke="#0d0d0d" stroke-width="1.2" />
<line x1="808.5" y1="482" x2="808.5" y2="656" stroke="#0a0a0a" stroke-width="2" />
<rect x="806.50" y="565.00" width="3.50" height="13.00" fill="#0a0a0a" />
<polygon points="795.7,446.5 825,446.5 825,452 829,452.0 825.5,454.2 829,456.4 825.5,458.6 829,460.8 825.5,463.0 829,465.2 825.5,467.4 829,469.6 825.5,471.8 829,474.0 825.5,476.2 829,476 829,481.2 795.7,481.2" fill="#313233" stroke="#080808" stroke-width="1.5"/>
<line x1="803" y1="447" x2="803" y2="481" stroke="#080808" stroke-width="1.3" />
<rect x="810.00" y="448.40" width="6.60" height="7.90" fill="#111" />
<rect x="728.50" y="696.00" width="38.00" height="7.00" fill="url(#brass)" stroke="#2a2418" stroke-width="0.8" />
<rect x="731.50" y="703.00" width="32.00" height="6.00" fill="url(#brass)" stroke="#1a1a1a" stroke-width="1.2" />
<rect x="734.50" y="709.00" width="26.00" height="4.00" fill="#151515" />
<rect x="726.50" y="713.00" width="43.00" height="14.00" fill="#1c1d1e" stroke="#0a0a0a" stroke-width="1" rx="5" />
<line x1="735.5" y1="715" x2="735.5" y2="725" stroke="#3a3a3a" stroke-width="1" />
<line x1="742.5" y1="715" x2="742.5" y2="725" stroke="#3a3a3a" stroke-width="1" />
<line x1="749.5" y1="715" x2="749.5" y2="725" stroke="#3a3a3a" stroke-width="1" />
<line x1="756.5" y1="715" x2="756.5" y2="725" stroke="#3a3a3a" stroke-width="1" />
<line x1="762.5" y1="715" x2="762.5" y2="725" stroke="#3a3a3a" stroke-width="1" />
<rect x="837.00" y="337.00" width="13.00" height="19.50" fill="url(#brass)" stroke="#2a2418" stroke-width="0.8" />
<line x1="839" y1="338" x2="839" y2="356" stroke="#5a4a2a" stroke-width="0.8" />
<line x1="842" y1="338" x2="842" y2="356" stroke="#5a4a2a" stroke-width="0.8" />
<line x1="845" y1="338" x2="845" y2="356" stroke="#5a4a2a" stroke-width="0.8" />
<line x1="848" y1="338" x2="848" y2="356" stroke="#5a4a2a" stroke-width="0.8" />
<rect x="850.00" y="333.00" width="17.00" height="29.00" fill="url(#brass)" stroke="#2a2418" stroke-width="0.8" />
<line x1="858" y1="333" x2="858" y2="362" stroke="#3a3020" stroke-width="1" />
<path d="M870,285 L914,285 L914,410 L870,410 Q867,410 867,407 L867,288 Q867,285 870,285 Z" fill="#1d1e1f" stroke="#0a0a0a" stroke-width="1" />
<rect x="914.00" y="285.00" width="5.40" height="125.00" fill="#c8c8c8" stroke="#111" stroke-width="1" />
<line x1="59" y1="347.4" x2="321" y2="347.4" stroke="#1c1c1c" stroke-width="1.1" stroke-dasharray="57,2,200,0"/>
<line x1="442" y1="347.4" x2="581" y2="347.4" stroke="#1c1c1c" stroke-width="1.1" stroke-dasharray="28,9,200,0"/>
<line x1="150" y1="347.4" x2="274" y2="347.4" stroke="#222" stroke-width="2" stroke-dasharray="9,4,3,4"/>
<line x1="212" y1="88" x2="212" y2="733" stroke="#111" stroke-width="1" stroke-dasharray="13,5,4,5"/>
<line x1="212" y1="286" x2="212" y2="410" stroke="#222" stroke-width="2" stroke-dasharray="9,4,3,4"/>
<line x1="381" y1="166" x2="381" y2="290" stroke="#111" stroke-width="1" stroke-dasharray="13,5,4,5"/>
<line x1="381" y1="373" x2="381" y2="718" stroke="#111" stroke-width="1" stroke-dasharray="13,5,4,5"/>
<line x1="747" y1="88" x2="747" y2="733" stroke="#111" stroke-width="1" stroke-dasharray="13,5,4,5"/>
<line x1="648" y1="347" x2="929" y2="347" stroke="#111" stroke-width="1" stroke-dasharray="13,5,4,5"/>
<line x1="468" y1="307" x2="581" y2="307" stroke="#262626" stroke-width="1.3" />
<line x1="127.5" y1="54.5" x2="127.5" y2="248" stroke="#262626" stroke-width="1.3" />
<line x1="466.5" y1="54.5" x2="466.5" y2="248" stroke="#262626" stroke-width="1.3" />
<line x1="127.5" y1="63.5" x2="466.5" y2="63.5" stroke="#262626" stroke-width="1.3" />
<polygon points="127.50,63.50 147.50,58.60 147.50,68.40" fill="#0c0c0c"/>
<polygon points="466.50,63.50 446.50,58.60 446.50,68.40" fill="#0c0c0c"/>
<line x1="58" y1="97.5" x2="171" y2="97.5" stroke="#262626" stroke-width="1.3" />
<line x1="67.5" y1="97.5" x2="67.5" y2="724" stroke="#262626" stroke-width="1.3" />
<polygon points="67.50,97.50 62.60,117.50 72.40,117.50" fill="#0c0c0c"/>
<polygon points="67.50,347.50 62.60,327.50 72.40,327.50" fill="#0c0c0c"/>
<polygon points="67.50,347.50 62.60,367.50 72.40,367.50" fill="#0c0c0c"/>
<polygon points="67.50,724.50 62.60,704.50 72.40,704.50" fill="#0c0c0c"/>
<line x1="57" y1="724.5" x2="191" y2="724.5" stroke="#262626" stroke-width="1.3" />
<line x1="336.5" y1="145" x2="336.5" y2="276" stroke="#262626" stroke-width="1.3" />
<line x1="426" y1="145" x2="426" y2="276" stroke="#262626" stroke-width="1.3" />
<line x1="336.5" y1="154.5" x2="426" y2="154.5" stroke="#262626" stroke-width="1.3" />
<polygon points="336.50,154.50 356.50,149.60 356.50,159.40" fill="#0c0c0c"/>
<polygon points="426.00,154.50 406.00,149.60 406.00,159.40" fill="#0c0c0c"/>
<line x1="512.5" y1="230.6" x2="512.5" y2="353" stroke="#262626" stroke-width="1.3" />
<polygon points="512.50,301.50 507.60,281.50 517.40,281.50" fill="#0c0c0c"/>
<polygon points="512.50,313.50 507.60,333.50 517.40,333.50" fill="#0c0c0c"/>
<line x1="468" y1="301.5" x2="520.6" y2="301.5" stroke="#262626" stroke-width="1.3" />
<line x1="468" y1="313.5" x2="520.6" y2="313.5" stroke="#262626" stroke-width="1.3" />
<line x1="572.5" y1="240.7" x2="572.5" y2="386" stroke="#262626" stroke-width="1.3" />
<polygon points="572.50,307.00 567.60,287.00 577.40,287.00" fill="#0c0c0c"/>
<polygon points="572.50,347.50 567.60,367.50 577.40,367.50" fill="#0c0c0c"/>
<line x1="657.5" y1="54.6" x2="657.5" y2="278" stroke="#262626" stroke-width="1.3" />
<line x1="835.5" y1="54.6" x2="835.5" y2="278" stroke="#262626" stroke-width="1.3" />
<line x1="919.5" y1="54.6" x2="919.5" y2="285" stroke="#262626" stroke-width="1.3" />
<line x1="657.5" y1="63.5" x2="919.5" y2="63.5" stroke="#262626" stroke-width="1.3" />
<polygon points="657.50,63.50 677.50,58.60 677.50,68.40" fill="#0c0c0c"/>
<polygon points="835.50,63.50 815.50,58.60 815.50,68.40" fill="#0c0c0c"/>
<polygon points="835.50,63.50 855.50,58.60 855.50,68.40" fill="#0c0c0c"/>
<polygon points="919.50,63.50 899.50,58.60 899.50,68.40" fill="#0c0c0c"/>
<line x1="919" y1="285" x2="978" y2="285" stroke="#262626" stroke-width="1.3" />
<line x1="919" y1="410" x2="978" y2="410" stroke="#262626" stroke-width="1.3" />
<line x1="969" y1="285" x2="969" y2="410" stroke="#262626" stroke-width="1.3" />
<polygon points="969.00,285.00 964.10,305.00 973.90,305.00" fill="#0c0c0c"/>
<polygon points="969.00,410.00 964.10,390.00 973.90,390.00" fill="#0c0c0c"/>
<path transform="translate(276.45,35.95) scale(15.667,21.800)" d="M0,0.26 L0.3,0 L0.3,1" fill="none" stroke="#0a0a0a" stroke-width="2.7" vector-effect="non-scaling-stroke" stroke-linecap="round" stroke-linejoin="round"/>
<path transform="translate(289.35,35.95) scale(18.600,21.800)" d="M0,0 L0.5,0 L0.13,1 M0.2,0.5 L0.5,0.5" fill="none" stroke="#0a0a0a" stroke-width="2.7" vector-effect="non-scaling-stroke" stroke-linecap="round" stroke-linejoin="round"/>
<path transform="translate(306.95,35.95) scale(19.000,21.800)" d="M0.0,0.5 A0.25,0.5 0 1 0 0.5,0.5 A0.25,0.5 0 1 0 0.0,0.5 Z" fill="none" stroke="#0a0a0a" stroke-width="2.7" vector-effect="non-scaling-stroke" stroke-linecap="round" stroke-linejoin="round"/>
<path transform="translate(365.35,126.85) scale(23.793,22.800)" d="M0.28,0 L0,0.76 L0.58,0.76 M0.41,0.5 L0.41,1" fill="none" stroke="#0a0a0a" stroke-width="2.7" vector-effect="non-scaling-stroke" stroke-linecap="round" stroke-linejoin="round"/>
<path transform="translate(385.85,126.85) scale(22.553,22.800)" d="M0.45,0 L0.05,0 L0.03,0.42 C0.1,0.38 0.18,0.37 0.24,0.37 C0.41,0.37 0.49,0.5 0.49,0.68 C0.49,0.88 0.37,1 0.22,1 C0.12,1 0.05,0.97 0,0.93" fill="none" stroke="#0a0a0a" stroke-width="2.7" vector-effect="non-scaling-stroke" stroke-linecap="round" stroke-linejoin="round"/>
<path transform="translate(732.85,35.65) scale(19.800,22.500)" d="M0.04999999999999999,0.235 A0.2,0.235 0 1 0 0.45,0.235 A0.2,0.235 0 1 0 0.04999999999999999,0.235 Z M0.0,0.73 A0.25,0.27 0 1 0 0.5,0.73 A0.25,0.27 0 1 0 0.0,0.73 Z" fill="none" stroke="#0a0a0a" stroke-width="2.7" vector-effect="non-scaling-stroke" stroke-linecap="round" stroke-linejoin="round"/>
<path transform="translate(750.85,35.65) scale(20.000,22.500)" d="M0.0,0.3 A0.25,0.3 0 1 0 0.5,0.3 A0.25,0.3 0 1 0 0.0,0.3 Z M0.5,0.3 C0.5,0.62 0.4,0.88 0.12,1" fill="none" stroke="#0a0a0a" stroke-width="2.7" vector-effect="non-scaling-stroke" stroke-linecap="round" stroke-linejoin="round"/>
<path transform="translate(854.15,49.65) scale(19.333,4.300)" d="M0,0.8 C0.05,0.1 0.15,0 0.22,0.45 C0.3,0.95 0.4,0.9 0.45,0.2" fill="none" stroke="#0a0a0a" stroke-width="2.7" vector-effect="non-scaling-stroke" stroke-linecap="round" stroke-linejoin="round"/>
<path transform="translate(871.75,36.25) scale(20.000,21.000)" d="M0.28,0 L0,0.76 L0.58,0.76 M0.41,0.5 L0.41,1" fill="none" stroke="#0a0a0a" stroke-width="2.7" vector-effect="non-scaling-stroke" stroke-linecap="round" stroke-linejoin="round"/>
<path transform="translate(891.85,36.25) scale(19.400,21.000)" d="M0.01,0.2 C0.05,0.06 0.14,0 0.25,0 C0.4,0 0.5,0.1 0.5,0.26 C0.5,0.44 0.35,0.58 0.0,1 L0.52,1" fill="none" stroke="#0a0a0a" stroke-width="2.7" vector-effect="non-scaling-stroke" stroke-linecap="round" stroke-linejoin="round"/>
<g transform="translate(38.5,244) rotate(-90)"><path transform="translate(1.35,1.35) scale(17.667,22.000)" d="M0,0.26 L0.3,0 L0.3,1" fill="none" stroke="#0a0a0a" stroke-width="2.7" vector-effect="non-scaling-stroke" stroke-linecap="round" stroke-linejoin="round"/><path transform="translate(14.55,1.35) scale(18.200,22.000)" d="M0.01,0.2 C0.05,0.06 0.14,0 0.25,0 C0.4,0 0.5,0.1 0.5,0.26 C0.5,0.44 0.35,0.58 0.0,1 L0.52,1" fill="none" stroke="#0a0a0a" stroke-width="2.7" vector-effect="non-scaling-stroke" stroke-linecap="round" stroke-linejoin="round"/><path transform="translate(31.95,1.35) scale(19.574,22.000)" d="M0.45,0 L0.05,0 L0.03,0.42 C0.1,0.38 0.18,0.37 0.24,0.37 C0.41,0.37 0.49,0.5 0.49,0.68 C0.49,0.88 0.37,1 0.22,1 C0.12,1 0.05,0.97 0,0.93" fill="none" stroke="#0a0a0a" stroke-width="2.7" vector-effect="non-scaling-stroke" stroke-linecap="round" stroke-linejoin="round"/></g>
<g transform="translate(38.5,557) rotate(-90)"><path transform="translate(1.35,1.35) scale(14.333,22.000)" d="M0,0.26 L0.3,0 L0.3,1" fill="none" stroke="#0a0a0a" stroke-width="2.7" vector-effect="non-scaling-stroke" stroke-linecap="round" stroke-linejoin="round"/><path transform="translate(14.15,1.35) scale(18.400,22.000)" d="M0.0,0.3 A0.25,0.3 0 1 0 0.5,0.3 A0.25,0.3 0 1 0 0.0,0.3 Z M0.5,0.3 C0.5,0.62 0.4,0.88 0.12,1" fill="none" stroke="#0a0a0a" stroke-width="2.7" vector-effect="non-scaling-stroke" stroke-linecap="round" stroke-linejoin="round"/><path transform="translate(32.35,1.35) scale(18.600,22.000)" d="M0.0,0.5 A0.25,0.5 0 1 0 0.5,0.5 A0.25,0.5 0 1 0 0.0,0.5 Z" fill="none" stroke="#0a0a0a" stroke-width="2.7" vector-effect="non-scaling-stroke" stroke-linecap="round" stroke-linejoin="round"/></g>
<g transform="translate(483.9,271.5) rotate(-90)"><path transform="translate(1.35,1.35) scale(21.250,22.000)" d="M0,1 L0,0 L0.36,0.82 L0.72,0 L0.72,1" fill="none" stroke="#0a0a0a" stroke-width="2.7" vector-effect="non-scaling-stroke" stroke-linecap="round" stroke-linejoin="round"/><path transform="translate(24.25,1.35) scale(19.800,22.000)" d="M0.44,0.04 C0.35,0 0.3,0 0.25,0 C0.1,0 0,0.25 0,0.62 C0,0.88 0.1,1 0.25,1 C0.4,1 0.5,0.88 0.5,0.72 C0.5,0.55 0.4,0.45 0.25,0.45 C0.12,0.45 0.03,0.52 0.0,0.6" fill="none" stroke="#0a0a0a" stroke-width="2.7" vector-effect="non-scaling-stroke" stroke-linecap="round" stroke-linejoin="round"/></g>
<g transform="translate(543.3,275.6) rotate(-90)"><path transform="translate(1.35,1.35) scale(18.600,22.500)" d="M0.01,0.2 C0.05,0.06 0.14,0 0.25,0 C0.4,0 0.5,0.1 0.5,0.26 C0.5,0.44 0.35,0.58 0.0,1 L0.52,1" fill="none" stroke="#0a0a0a" stroke-width="2.7" vector-effect="non-scaling-stroke" stroke-linecap="round" stroke-linejoin="round"/><path transform="translate(18.35,1.35) scale(20.800,22.500)" d="M0.0,0.5 A0.25,0.5 0 1 0 0.5,0.5 A0.25,0.5 0 1 0 0.0,0.5 Z" fill="none" stroke="#0a0a0a" stroke-width="2.7" vector-effect="non-scaling-stroke" stroke-linecap="round" stroke-linejoin="round"/></g>
<g transform="translate(933.9,377.2) rotate(-90)"><path transform="translate(1.35,1.35) scale(42.600,22.300)" d="M0.0,0.5 A0.25,0.5 0 1 0 0.5,0.5 A0.25,0.5 0 1 0 0.0,0.5 Z" fill="none" stroke="#0a0a0a" stroke-width="2.7" vector-effect="non-scaling-stroke" stroke-linecap="round" stroke-linejoin="round"/><line x1="21" y1="-4" x2="3.3" y2="30.1" stroke="#111" stroke-width="2.4" stroke-linecap="round"/><path transform="translate(31.15,1.35) scale(18.800,22.300)" d="M0.44,0.04 C0.35,0 0.3,0 0.25,0 C0.1,0 0,0.25 0,0.62 C0,0.88 0.1,1 0.25,1 C0.4,1 0.5,0.88 0.5,0.72 C0.5,0.55 0.4,0.45 0.25,0.45 C0.12,0.45 0.03,0.52 0.0,0.6" fill="none" stroke="#0a0a0a" stroke-width="2.7" vector-effect="non-scaling-stroke" stroke-linecap="round" stroke-linejoin="round"/><path transform="translate(47.95,1.35) scale(20.600,22.300)" d="M0.02,0.14 C0.08,0.03 0.17,0 0.26,0 C0.4,0 0.49,0.1 0.49,0.23 C0.49,0.37 0.39,0.46 0.22,0.46 C0.41,0.46 0.52,0.56 0.52,0.72 C0.52,0.9 0.4,1 0.25,1 C0.13,1 0.04,0.93 0,0.83" fill="none" stroke="#0a0a0a" stroke-width="2.7" vector-effect="non-scaling-stroke" stroke-linecap="round" stroke-linejoin="round"/></g></svg>
</body></html>
